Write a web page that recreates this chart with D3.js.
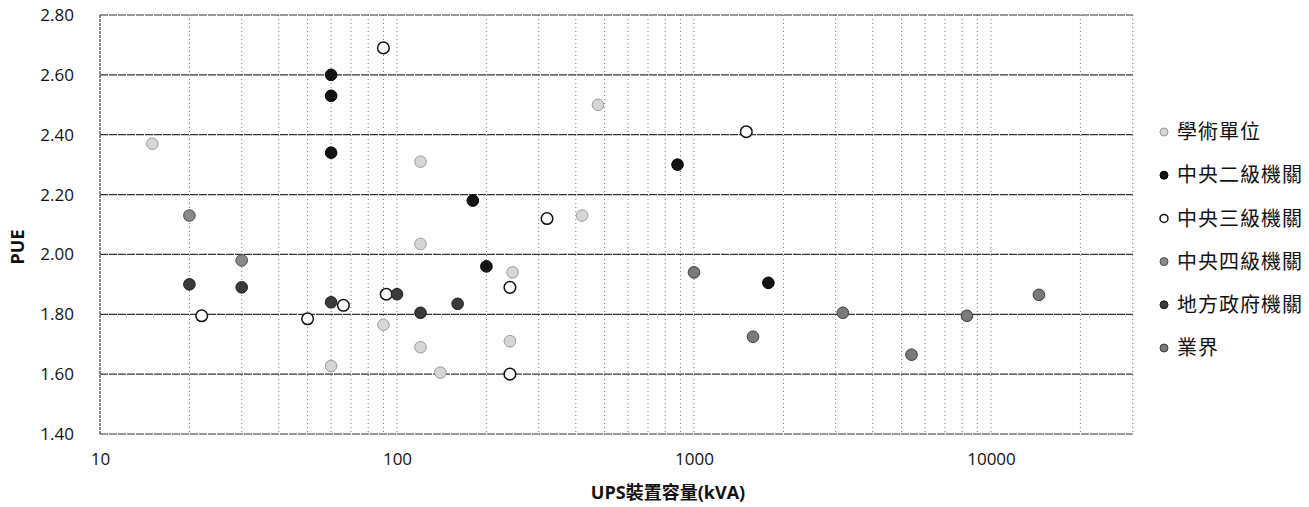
<!DOCTYPE html>
<html>
<head>
<meta charset="utf-8">
<script src="https://cdn.jsdelivr.net/npm/d3@7"></script>
<style>
  html, body { margin: 0; padding: 0; background: #fff; }
  svg { display: block; }
  text { font-family: "Open Sans", "Noto Sans CJK TC", sans-serif; fill: #111; }
</style>
</head>
<body>
<svg id="chart" width="1309" height="507"></svg>
<script>
// ---- data ----
const seriesNames = ["學術單位", "中央二級機關", "中央三級機關", "中央四級機關", "地方政府機關", "業界"];
const academicX = [15, 120, 120, 475, 420, 90, 120, 60, 140, 240, 245];
const academicY = [2.37, 2.31, 2.035, 2.50, 2.13, 1.765, 1.69, 1.627, 1.605, 1.71, 1.94];
const central2X = [60, 60, 60, 880, 180, 200, 1780];
const central2Y = [2.60, 2.53, 2.34, 2.30, 2.18, 1.96, 1.905];
const central3X = [90, 1500, 320, 22, 50, 66, 92, 240, 240];
const central3Y = [2.69, 2.41, 2.12, 1.795, 1.785, 1.83, 1.867, 1.89, 1.60];
const central4X = [20, 30];
const central4Y = [2.13, 1.98];
const localX = [20, 30, 60, 100, 120, 160];
const localY = [1.90, 1.89, 1.84, 1.867, 1.805, 1.835];
const industryX = [1000, 1580, 3170, 5400, 8300, 14500];
const industryY = [1.94, 1.725, 1.805, 1.665, 1.795, 1.865];
const yTicks = [1.40, 1.60, 1.80, 2.00, 2.20, 2.40, 2.60, 2.80];
const xTickLabels = [10, 100, 1000, 10000];
const xTitle = "UPS裝置容量(kVA)";
const yTitle = "PUE";

const seriesX = [academicX, central2X, central3X, central4X, localX, industryX];
const seriesY = [academicY, central2Y, central3Y, central4Y, localY, industryY];
const styles = [
  { fill: "#d6d6d6", stroke: "#9a9a9a", sw: 1 },
  { fill: "#141414", stroke: "#000", sw: 1 },
  { fill: "#ffffff", stroke: "#111", sw: 1.5 },
  { fill: "#8a8a8a", stroke: "#4a4a4a", sw: 1 },
  { fill: "#3a3a3a", stroke: "#1a1a1a", sw: 1 },
  { fill: "#7a7a7a", stroke: "#3a3a3a", sw: 1 }
];

// ---- scales ----
const svg = d3.select("#chart");
const x = d3.scaleLog().domain([10, 30000]).range([100, 1132.7]);
const y = d3.scaleLinear().domain([1.4, 2.8]).range([434, 15]);

// minor vertical gridlines
const minorTicks = [];
for (let dec = 10; dec <= 10000; dec *= 10) {
  for (let m = 1; m <= 9; m++) {
    const v = dec * m;
    if (v > 10 && v <= 30000) minorTicks.push(v);
  }
}
svg.append("g").selectAll("line").data(minorTicks).join("line")
  .attr("x1", d => x(d)).attr("x2", d => x(d))
  .attr("y1", y(2.8)).attr("y2", y(1.4))
  .attr("stroke", "#777").attr("stroke-width", 1)
  .attr("stroke-dasharray", "1,3");

// horizontal gridlines
svg.append("g").selectAll("line").data(yTicks).join("line")
  .attr("x1", x(10)).attr("x2", x(30000))
  .attr("y1", d => y(d)).attr("y2", d => y(d))
  .attr("stroke", "#333").attr("stroke-width", 1.2)
  .attr("stroke-dasharray", "8,1");

// left axis line
svg.append("line")
  .attr("x1", x(10)).attr("x2", x(10)).attr("y1", y(2.8)).attr("y2", y(1.4))
  .attr("stroke", "#333").attr("stroke-width", 1.2).attr("stroke-dasharray", "3,1");

// y axis labels
const yAxis = d3.axisLeft(y).tickValues(yTicks).tickFormat(d3.format(".2f")).tickSize(0).tickPadding(26);
const gy = svg.append("g").attr("transform", `translate(${x(10)},0)`).call(yAxis);
gy.select(".domain").remove();
gy.selectAll("text").style("font-size", "17px").attr("fill", "#111");

// x axis labels
const xAxis = d3.axisBottom(x).tickValues(xTickLabels).tickFormat(d3.format("d")).tickSize(0).tickPadding(19);
const gx = svg.append("g").attr("transform", `translate(0,${y(1.4)})`).call(xAxis);
gx.select(".domain").remove();
gx.selectAll("text").style("font-size", "17px").attr("fill", "#111");

// titles
svg.append("text").attr("x", 668).attr("y", 499).attr("text-anchor", "middle")
  .style("font-size", "18px").style("font-weight", "bold").text(xTitle);
svg.append("text").attr("transform", "translate(24,247) rotate(-90)").attr("text-anchor", "middle")
  .style("font-size", "18px").style("font-weight", "bold").text(yTitle);

// points
seriesNames.forEach((name, i) => {
  const pts = seriesX[i].map((v, j) => ({ x: v, y: seriesY[i][j] }));
  svg.append("g").selectAll("circle").data(pts).join("circle")
    .attr("cx", d => x(d.x)).attr("cy", d => y(d.y)).attr("r", 5.8)
    .attr("fill", styles[i].fill).attr("stroke", styles[i].stroke)
    .attr("stroke-width", styles[i].sw);
});

// legend
const legend = svg.append("g");
seriesNames.forEach((name, i) => {
  const ly = 132 + i * 43.2;
  legend.append("circle").attr("cx", 1164).attr("cy", ly).attr("r", 4)
    .attr("fill", styles[i].fill).attr("stroke", styles[i].stroke).attr("stroke-width", styles[i].sw);
  legend.append("text").attr("x", 1177).attr("y", ly).attr("dy", "0.36em")
    .style("font-size", "20px").style("letter-spacing", "1px").text(name);
});
</script>
</body>
</html>
